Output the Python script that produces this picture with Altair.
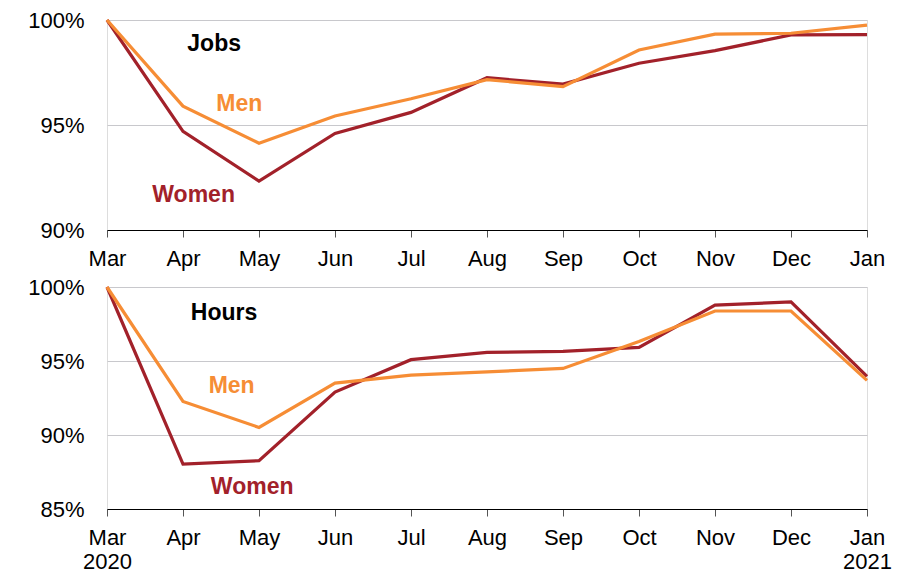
import altair as alt
import pandas as pd

months = ["Mar", "Apr", "May", "Jun", "Jul", "Aug", "Sep", "Oct", "Nov", "Dec", "Jan"]
jobs_women = [100, 94.7, 92.33, 94.6, 95.6, 97.25, 96.95, 97.94, 98.54, 99.29, 99.3]
jobs_men = [100, 95.9, 94.13, 95.43, 96.25, 97.16, 96.83, 98.57, 99.33, 99.37, 99.76]
hours_women = [100, 88.04, 88.26, 92.9, 95.09, 95.58, 95.65, 95.92, 98.78, 98.99, 93.96]
hours_men = [100, 92.27, 90.51, 93.51, 94.05, 94.26, 94.5, 96.32, 98.38, 98.38, 93.69]

WOMEN = "#a2212a"
MEN = "#f68d35"
FONT = "Liberation Sans"


def frame(women, men):
    rows = []
    for i, m in enumerate(months):
        rows.append({"i": i, "month": m, "value": women[i], "group": "Women"})
        rows.append({"i": i, "month": m, "value": men[i], "group": "Men"})
    return pd.DataFrame(rows)


top_labels = "[" + ",".join(f"'{m}'" for m in months) + "][datum.value]"
bottom_list = [f"'{m}'" for m in months]
bottom_list[0] = "['Mar','2020']"
bottom_list[-1] = "['Jan','2021']"
bottom_labels = "[" + ",".join(bottom_list) + "][datum.value]"


def panel(women, men, ydomain, yticks, height, label_expr, ann):
    df = frame(women, men)
    x = alt.X(
        "i:Q",
        scale=alt.Scale(domain=[0, 10], nice=False, zero=False),
        axis=alt.Axis(
            values=list(range(11)), labelExpr=label_expr, title=None, grid=False,
            domainColor="#000000", domainWidth=1.2, tickColor="#555555", tickSize=7,
            labelFontSize=22, labelFont=FONT, labelColor="#000000", labelPadding=11,
            labelFlush=False, labelOverlap=False, labelLineHeight=24,
        ),
    )
    y = alt.Y(
        "value:Q",
        scale=alt.Scale(domain=ydomain, nice=False, zero=False),
        axis=alt.Axis(
            values=yticks, format=".0f", labelExpr="datum.label + '%'", title=None,
            domain=False, ticks=False, grid=True, gridColor="#c8c8cc", gridWidth=1,
            labelFontSize=22, labelFont=FONT, labelColor="#000000", labelPadding=23,
        ),
    )
    lines = alt.Chart(df).mark_line(strokeWidth=3.2).encode(
        x=x, y=y,
        color=alt.Color("group:N", scale=alt.Scale(domain=["Women", "Men"], range=[WOMEN, MEN]), legend=None),
        order="i:Q",
    )
    ann_df = pd.DataFrame(ann)
    text = alt.Chart(ann_df).mark_text(font=FONT, fontSize=23, fontWeight="bold").encode(
        x="x:Q", y="y:Q", text="t:N",
        color=alt.Color("c:N", scale=None),
    )
    return alt.layer(lines, text).properties(width=760, height=height)


top = panel(
    jobs_women, jobs_men, [90, 100], [90, 95, 100], 210, top_labels,
    {"t": ["Jobs", "Men", "Women"], "x": [1.41, 1.74, 1.14], "y": [98.86, 96.0, 91.67],
     "c": ["#000000", MEN, WOMEN]},
)
bottom = panel(
    hours_women, hours_men, [85, 100], [85, 90, 95, 100], 222, bottom_labels,
    {"t": ["Hours", "Men", "Women"], "x": [1.54, 1.64, 1.91], "y": [98.26, 93.33, 86.5],
     "c": ["#000000", MEN, WOMEN]},
)

chart = alt.vconcat(top, bottom, spacing=5).properties(
    padding={"left": 19, "top": 0, "right": 5, "bottom": 0}
).configure_view(stroke=None).configure(background="white")

chart.save("out.html", embed_options={"renderer": "svg", "actions": False})
